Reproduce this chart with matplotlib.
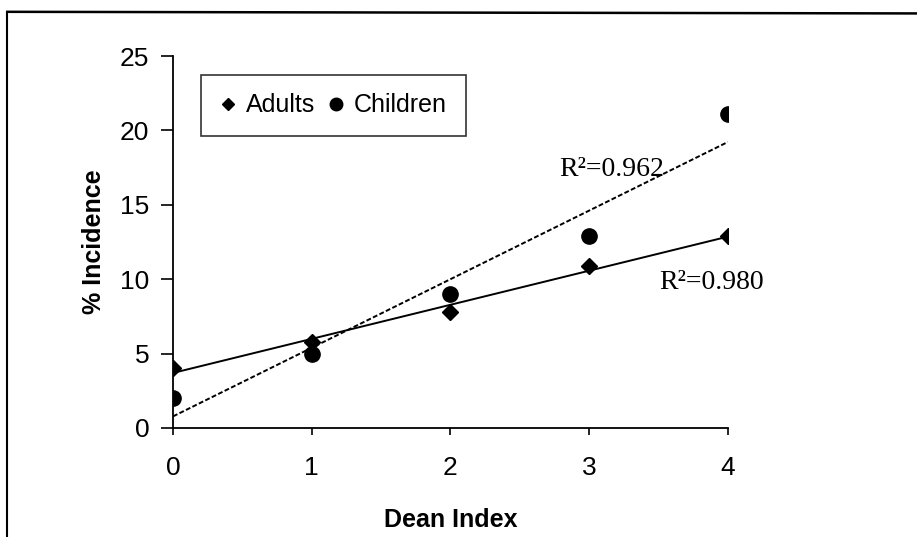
import numpy as np
import matplotlib
matplotlib.use('Agg')
import matplotlib.pyplot as plt
from matplotlib.lines import Line2D

dean = [0, 1, 2, 3, 4]
adults = [4.0, 5.8, 7.8, 10.9, 12.9]
children = [2.0, 5.0, 9.0, 12.9, 21.1]
r2_adults = '0.980'
r2_children = '0.962'

sans = ['Liberation Sans Narrow', 'Liberation Sans', 'DejaVu Sans']
serif = ['Liberation Serif', 'DejaVu Serif']

fig = plt.figure(figsize=(9.17, 5.37), dpi=100)
ax = fig.add_axes([0.1887, 0.203, 0.605, 0.6927])

# trend lines (least squares)
xs = np.array([0, 4])
pa = np.polyfit(dean, adults, 1)
pc = np.polyfit(dean, children, 1)
ax.plot(xs, np.polyval(pa, xs), color='black', lw=1.4, zorder=2)
ax.plot(xs, np.polyval(pc, xs), color='black', lw=1.4, ls=(0, (2.5, 1.2)), zorder=2)

ax.plot(dean, adults, ls='none', marker='D', ms=8, color='black', zorder=3)
ax.plot(dean, children, ls='none', marker='o', ms=11, color='black', zorder=3)

ax.text(3.16, 17.4, 'R²=' + r2_children, family=serif, fontsize=20,
        ha='center', va='center')
ax.text(3.88, 9.75, 'R²=' + r2_adults, family=serif, fontsize=20,
        ha='center', va='center')

ax.set_xlim(0, 4)
ax.set_ylim(0, 25)
ax.set_xticks(dean)
ax.set_yticks([0, 5, 10, 15, 20, 25])
for s in ['top', 'right']:
    ax.spines[s].set_visible(False)
for s in ['left', 'bottom']:
    ax.spines[s].set_linewidth(1.3)
ax.tick_params(axis='y', direction='out', length=9, width=1.2, pad=8)
ax.tick_params(axis='x', direction='out', length=5, width=1.2, pad=15)
for lab in ax.get_xticklabels() + ax.get_yticklabels():
    lab.set_family(sans)
    lab.set_fontsize(19)

ax.set_xlabel('Dean Index', family=sans, fontsize=18, fontweight='bold', labelpad=20)
ax.set_ylabel('% Incidence', family=sans, fontsize=18, fontweight='bold', labelpad=10)

handles = [Line2D([], [], ls='none', marker='D', ms=6, color='black'),
           Line2D([], [], ls='none', marker='o', ms=9, color='black')]
leg = ax.legend(handles, ['Adults', 'Children'], loc='upper left',
                bbox_to_anchor=(0.05, 0.95), ncol=2, frameon=True,
                fancybox=False, edgecolor='black', handlelength=0.7,
                handletextpad=0.35, columnspacing=0.5, borderpad=0.75,
                borderaxespad=0, prop={'family': sans, 'size': 18})
leg.get_frame().set_linewidth(1.2)

# page border from the scan (left and top rule)
fig.add_artist(Line2D([0.008, 0.008], [0.0, 0.978], color='black', lw=1.5))
fig.add_artist(Line2D([0.008, 1.0], [0.978, 0.975], color='black', lw=1.8))

fig.savefig('out.png', dpi=100)
